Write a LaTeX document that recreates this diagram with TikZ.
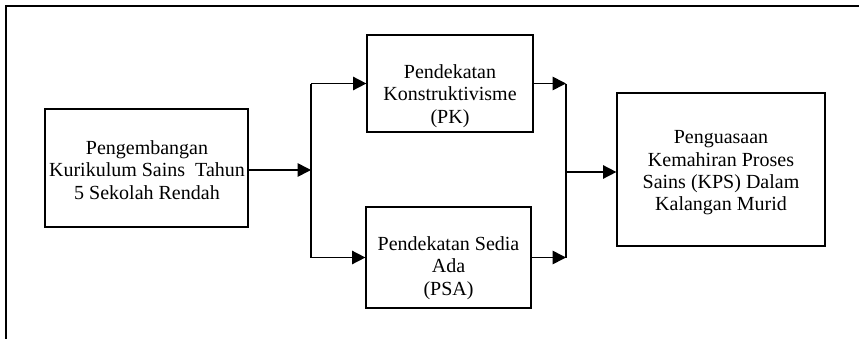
\documentclass[tikz,border=0pt]{standalone}
\usepackage{fontspec}
\setmainfont{Liberation Serif}
\usepackage{tikz}
\usetikzlibrary{arrows.meta,calc}

\begin{document}
\begin{tikzpicture}[x=0.75pt,y=-0.75pt,
    box/.style={draw,line width=0.9pt,inner sep=0pt},
    txt/.style={align=center,font=\fontsize{15}{16.7}\selectfont,inner sep=0pt},
    flow/.style={line width=1.2pt},
    arr/.style={flow,-{Triangle[length=10pt,width=10pt]}}]
  \useasboundingbox (0,0) rectangle (859,339);
  % outer frame (open at right and bottom)
  \draw[line width=0.9pt] (859,6) -- (6,6) -- (6,339);
  % boxes
  \node[box,minimum width=203*0.75pt,minimum height=118*0.75pt] (dev) at (146.5,168) {};
  \node[txt] (devtext) at (147,170) {Pengembangan\\Kurikulum Sains\ \ Tahun\\5 Sekolah Rendah};
  \node[box,minimum width=166*0.75pt,minimum height=97*0.75pt] (pk) at (450,83.5) {};
  \node[txt] (pktext) at (450,96) {Pendekatan\\Konstruktivisme\\(PK)};
  \node[box,minimum width=165*0.75pt,minimum height=101*0.75pt] (psa) at (448.5,257.5) {};
  \node[txt] (psatext) at (448.5,268) {Pendekatan Sedia\\Ada\\(PSA)};
  \node[box,minimum width=208*0.75pt,minimum height=153*0.75pt] (kps) at (721,169.5) {};
  \node[txt] (kpstext) at (721,173) {Penguasaan\\Kemahiran Proses\\Sains (KPS) Dalam\\Kalangan Murid};
  % split and join points
  \coordinate (splitL) at (311,170);
  \coordinate (splitT) at (311,83.5);
  \coordinate (splitB) at (311,257.5);
  \coordinate (joinT) at (566,83.5);
  \coordinate (joinB) at (566,257.5);
  \coordinate (joinR) at (566,172);
  % connectors
  \draw[arr] (dev.east |- splitL) -- (splitL);
  \draw[flow] (splitT) -- (splitB);
  \draw[arr] (splitT) -- (pk.west);
  \draw[arr] (splitB) -- (psa.west);
  \draw[arr] (pk.east) -- (joinT);
  \draw[arr] (psa.east) -- (joinB);
  \draw[flow] (joinT) -- (joinB);
  \draw[arr] (joinR) -- (kps.west |- joinR);
\end{tikzpicture}
\end{document}
